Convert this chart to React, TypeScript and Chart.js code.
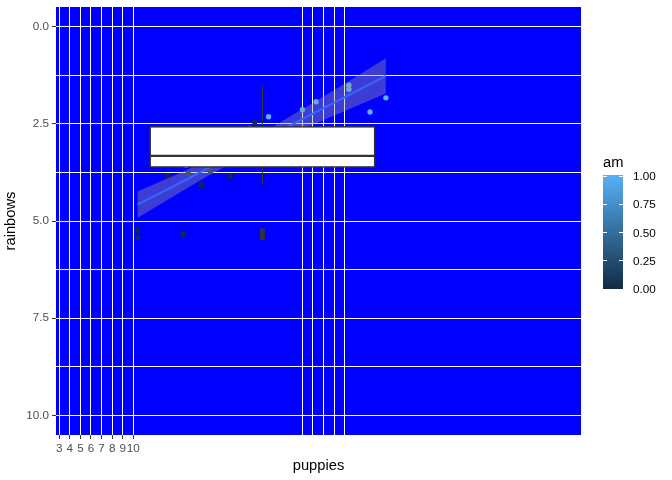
import React, { useEffect, useRef } from "react";
import { Chart, registerables } from "chart.js";

Chart.register(...registerables);

// mtcars-like data: x = puppies, y = rainbows, colour = am
const puppies = [21.0, 21.0, 22.8, 21.4, 18.7, 18.1, 14.3, 24.4, 22.8, 19.2, 17.8, 16.4, 17.3, 15.2, 10.4, 10.4, 14.7, 32.4, 30.4, 33.9, 21.5, 15.5, 15.2, 13.3, 19.2, 27.3, 26.0, 30.4, 15.8, 19.7, 15.0, 21.4];
const rainbows = [2.620, 2.875, 2.320, 3.215, 3.440, 3.460, 3.570, 3.190, 3.150, 3.440, 3.440, 4.070, 3.730, 3.780, 5.250, 5.424, 5.345, 2.200, 1.615, 1.835, 2.465, 3.520, 3.435, 3.840, 3.845, 1.935, 2.140, 1.513, 3.170, 2.770, 3.570, 2.780];
const amValues = [1, 1, 1, 0, 0, 0, 0, 0, 0, 0, 0, 0, 0, 0, 0, 0, 0, 1, 1, 1, 0, 0, 0, 0, 0, 1, 1, 1, 1, 1, 1, 1];

// axis ticks
const xTickValues = [3, 4, 5, 6, 7, 8, 9, 10];
const xExtraGridValues = [26, 27, 28, 29, 30];
const yTickValues = [0, 2.5, 5, 7.5, 10];
const yMinorValues = [1.25, 3.75, 6.25, 8.75];

// linear smooth with confidence band
const smoothX = [10.4, 14, 17, 20.09, 23, 26, 30, 33.9];
const smoothFit = [4.58, 4.08, 3.65, 3.22, 2.81, 2.38, 1.82, 1.27];
const smoothLower = [4.24, 3.82, 3.45, 3.04, 2.61, 2.13, 1.47, 0.82];
const smoothUpper = [4.92, 4.33, 3.85, 3.40, 3.01, 2.64, 2.17, 1.72];

// boxplot of rainbows
const boxCenterX = 22.22;
const boxWidthX = 21.23;
const boxWhiskerLow = 1.513;
const boxQ1 = 2.581;
const boxMedian = 3.325;
const boxQ3 = 3.61;
const boxWhiskerHigh = 4.07;
const boxOutliers = [5.25, 5.345, 5.424];

// colour bar legend
const legendTicks = [0, 0.25, 0.5, 0.75, 1];
const legendLabels = ["0.00", "0.25", "0.50", "0.75", "1.00"];

const FONT = "'Liberation Sans', Arial, sans-serif";
const LOW_COLOR = "#132B43";
const HIGH_COLOR = "#56B1F7";

const panelBg = {
  id: "panelBg",
  beforeDraw(chart: any) {
    const { ctx, chartArea } = chart;
    ctx.save();
    ctx.fillStyle = "#FFFFFF";
    ctx.fillRect(0, 0, chart.width, chart.height);
    ctx.fillStyle = "#0000FF";
    ctx.fillRect(chartArea.left, chartArea.top, chartArea.right - chartArea.left, chartArea.bottom - chartArea.top);
    ctx.restore();
  },
};

const boxplotPlugin = {
  id: "boxplotPlugin",
  afterDatasetsDraw(chart: any) {
    const { ctx } = chart;
    const xs = chart.scales.x;
    const ys = chart.scales.y;
    const xl = xs.getPixelForValue(boxCenterX - boxWidthX / 2);
    const xr = xs.getPixelForValue(boxCenterX + boxWidthX / 2);
    const xc = xs.getPixelForValue(boxCenterX);
    const yq1 = ys.getPixelForValue(boxQ1);
    const yq3 = ys.getPixelForValue(boxQ3);
    const ymed = ys.getPixelForValue(boxMedian);
    ctx.save();
    ctx.strokeStyle = "#333333";
    ctx.lineWidth = 1.1;
    ctx.beginPath();
    ctx.moveTo(xc, ys.getPixelForValue(boxWhiskerLow));
    ctx.lineTo(xc, yq1);
    ctx.moveTo(xc, yq3);
    ctx.lineTo(xc, ys.getPixelForValue(boxWhiskerHigh));
    ctx.stroke();
    ctx.fillStyle = "#FFFFFF";
    ctx.fillRect(xl, yq1, xr - xl, yq3 - yq1);
    ctx.lineWidth = 1.4;
    ctx.strokeRect(xl, yq1, xr - xl, yq3 - yq1);
    ctx.lineWidth = 2.4;
    ctx.beginPath();
    ctx.moveTo(xl, ymed);
    ctx.lineTo(xr, ymed);
    ctx.stroke();
    ctx.fillStyle = "#333333";
    for (const o of boxOutliers) {
      ctx.beginPath();
      ctx.arc(xc, ys.getPixelForValue(o), 2.6, 0, Math.PI * 2);
      ctx.fill();
    }
    ctx.restore();
  },
};

const colorbarPlugin = {
  id: "colorbarPlugin",
  afterDraw(chart: any) {
    const { ctx } = chart;
    const barLeft = 603;
    const barWidth = 20;
    const barTop = 175;
    const barBottom = 289;
    const yFor = (v: number) => 288.5 - v * (288.5 - 175.5);
    ctx.save();
    ctx.fillStyle = "#000000";
    ctx.font = `14.7px ${FONT}`;
    ctx.textBaseline = "alphabetic";
    ctx.textAlign = "left";
    ctx.fillText("am", 603, 167);
    const grad = ctx.createLinearGradient(0, barBottom, 0, barTop);
    grad.addColorStop(0, LOW_COLOR);
    grad.addColorStop(1, HIGH_COLOR);
    ctx.fillStyle = grad;
    ctx.fillRect(barLeft, barTop, barWidth, barBottom - barTop);
    ctx.strokeStyle = "#FFFFFF";
    ctx.lineWidth = 1;
    ctx.font = `11.7px ${FONT}`;
    ctx.textBaseline = "middle";
    legendTicks.forEach((v, i) => {
      const y = Math.round(yFor(v)) + 0.5;
      ctx.beginPath();
      ctx.moveTo(barLeft, y);
      ctx.lineTo(barLeft + 4, y);
      ctx.moveTo(barLeft + barWidth - 4, y);
      ctx.lineTo(barLeft + barWidth, y);
      ctx.stroke();
      ctx.fillStyle = "#000000";
      ctx.fillText(legendLabels[i], 633, yFor(v) + 1.5);
    });
    ctx.restore();
  },
};

export default function App() {
  const canvasRef = useRef<HTMLCanvasElement | null>(null);

  useEffect(() => {
    const canvas = canvasRef.current;
    if (!canvas) return;

    const points = puppies.map((x, i) => ({ x, y: rainbows[i] }));
    const pointColors = amValues.map((a) => (a >= 0.5 ? HIGH_COLOR : LOW_COLOR));

    const chart = new Chart(canvas, {
      type: "scatter",
      data: {
        datasets: [
          {
            label: "lower",
            data: smoothX.map((x, i) => ({ x, y: smoothLower[i] })),
            showLine: true,
            borderWidth: 0,
            borderColor: "rgba(0,0,0,0)",
            pointRadius: 0,
            fill: false,
            order: 3,
          },
          {
            label: "upper",
            data: smoothX.map((x, i) => ({ x, y: smoothUpper[i] })),
            showLine: true,
            borderWidth: 0,
            borderColor: "rgba(0,0,0,0)",
            backgroundColor: "rgba(153,153,153,0.4)",
            pointRadius: 0,
            fill: "-1",
            order: 3,
          },
          {
            label: "fit",
            data: smoothX.map((x, i) => ({ x, y: smoothFit[i] })),
            showLine: true,
            borderWidth: 2.1,
            borderColor: "#3366FF",
            pointRadius: 0,
            fill: false,
            order: 1,
          },
          {
            label: "points",
            data: points,
            pointRadius: 2.7,
            pointBorderWidth: 0,
            pointBackgroundColor: pointColors,
            pointBorderColor: pointColors,
            order: 4,
          },
        ],
      },
      options: {
        animation: false,
        responsive: false,
        devicePixelRatio: 1,
        layout: { padding: { left: 0, top: 7, right: 91, bottom: 0 } },
        plugins: {
          legend: { display: false },
          tooltip: { enabled: false },
          title: { display: false },
        },
        scales: {
          x: {
            type: "linear",
            min: 2.69,
            max: 52.36,
            afterBuildTicks: (scale: any) => {
              scale.ticks = [...xTickValues, ...xExtraGridValues].map((v) => ({ value: v }));
            },
            afterFit: (scale: any) => {
              scale.height = 45;
              scale.paddingLeft = 0;
              scale.paddingRight = 0;
            },
            ticks: {
              autoSkip: false,
              maxRotation: 0,
              minRotation: 0,
              padding: 3,
              color: "#4D4D4D",
              font: { family: FONT, size: 11.7 },
              callback: (v: any) => (xTickValues.includes(Number(v)) ? String(v) : ""),
            },
            grid: {
              color: "#FFFFFF",
              lineWidth: 1,
              tickLength: 4,
              tickColor: (ctx: any) =>
                ctx.tick && xTickValues.includes(ctx.tick.value) ? "#333333" : "rgba(0,0,0,0)",
            },
            border: { display: false },
            title: {
              display: true,
              text: "puppies",
              color: "#000000",
              font: { family: FONT, size: 14.7 },
              padding: { top: 0, bottom: 5 },
            },
          },
          y: {
            type: "linear",
            reverse: true,
            min: -0.5,
            max: 10.5,
            afterBuildTicks: (scale: any) => {
              scale.ticks = [...yTickValues, ...yMinorValues]
                .sort((a, b) => a - b)
                .map((v) => ({ value: v }));
            },
            afterFit: (scale: any) => {
              scale.width = 56;
              scale.paddingTop = 0;
              scale.paddingBottom = 0;
            },
            ticks: {
              autoSkip: false,
              padding: 3,
              color: "#4D4D4D",
              font: { family: FONT, size: 11.7 },
              callback: (v: any) => (yTickValues.includes(Number(v)) ? Number(v).toFixed(1) : ""),
            },
            grid: {
              color: "#FFFFFF",
              lineWidth: 1,
              tickLength: 4,
              tickColor: (ctx: any) =>
                ctx.tick && yTickValues.includes(ctx.tick.value) ? "#333333" : "rgba(0,0,0,0)",
            },
            border: { display: false },
            title: {
              display: true,
              text: "rainbows",
              color: "#000000",
              font: { family: FONT, size: 14.7 },
              padding: { top: 2, bottom: 0 },
            },
          },
        },
      },
      plugins: [panelBg, boxplotPlugin, colorbarPlugin],
    } as any);

    return () => chart.destroy();
  }, []);

  return (
    <div style={{ position: "fixed", left: 0, top: 0, width: 672, height: 480, background: "#FFFFFF" }}>
      <canvas ref={canvasRef} width={672} height={480} style={{ display: "block", width: 672, height: 480 }} />
    </div>
  );
}
